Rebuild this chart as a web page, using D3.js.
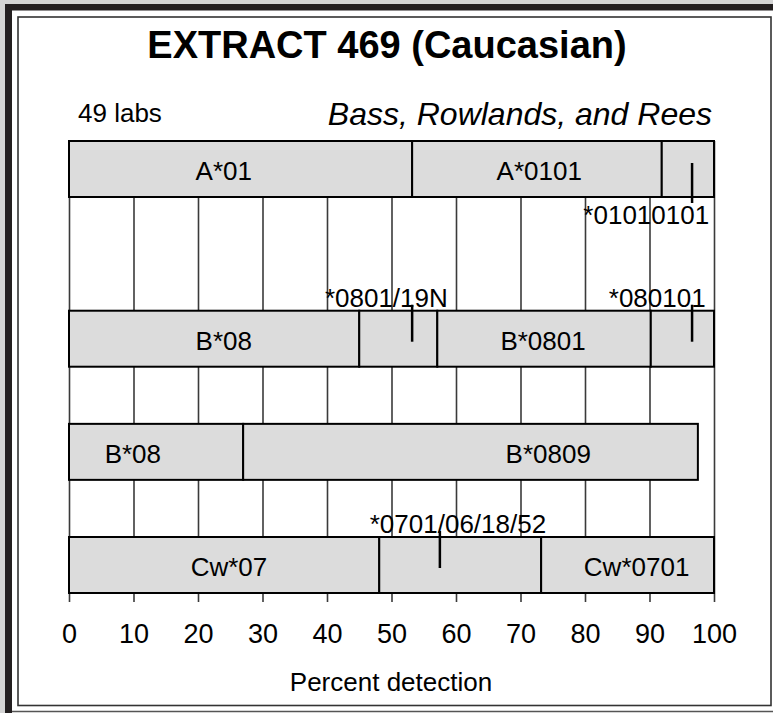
<!DOCTYPE html>
<html>
<head>
<meta charset="utf-8">
<script src="https://cdn.jsdelivr.net/npm/d3@7"></script>
<style>
  body { margin: 0; background: #fff; }
  text { font-family: "Liberation Sans", Arial, sans-serif; fill: #000; }
</style>
</head>
<body>
<div id="chart"></div>
<script>
// chart data (percent detection)
var rowBreaks = [
    [0, 53.2, 91.9, 100],
    [0, 45.0, 57.1, 90.2, 100],
    [0, 27.0, 97.5],
    [0, 48.1, 73.2, 100]
];
var segLabels = [
    ["A*01", "A*0101"],
    ["B*08", "B*0801"],
    ["B*08", "B*0809"],
    ["Cw*07", "Cw*0701"]
];
var segLabelAt = [
    [24.0, 72.9],
    [24.0, 73.5],
    [9.9, 74.3],
    [24.8, 88.0]
];
var markerRow = [0, 1, 1, 3];
var markerValue = [96.6, 53.2, 96.6, 57.5];
var markerText = ["*01010101", "*0801/19N", "*080101", "*0701/06/18/52"];
var markerTextAt = [89.5, 49.2, 91.2, 60.3];
var markerBelow = [true, false, false, false];
var tickValues = [0, 10, 20, 30, 40, 50, 60, 70, 80, 90, 100];

var svg;
var x;
var y;

function frame() {
    var width = 773, height = 713;

    svg = d3.select("#chart")
        .append("svg")
        .attr("width", width)
        .attr("height", height);

    // grey page margin on the top and left
    svg.append("rect").attr("x", 0).attr("y", 0).attr("width", width).attr("height", 4).attr("fill", "#d4d4d4");
    svg.append("rect").attr("x", 0).attr("y", 0).attr("width", 5).attr("height", height).attr("fill", "#d4d4d4");

    // thick dark border top + left, thin one at the bottom
    svg.append("rect").attr("x", 5).attr("y", 4).attr("width", width - 5).attr("height", 6.5).attr("fill", "#231f20");
    svg.append("rect").attr("x", 5).attr("y", 4).attr("width", 7).attr("height", height - 4).attr("fill", "#231f20");
    svg.append("line")
        .attr("x1", 12).attr("x2", width)
        .attr("y1", 711.5).attr("y2", 711.5)
        .attr("stroke", "#555").attr("stroke-width", 1.5);

    // inner box
    svg.append("rect")
        .attr("x", 18).attr("y", 17)
        .attr("width", 753).attr("height", 688.5)
        .attr("fill", "none")
        .attr("stroke", "#333")
        .attr("stroke-width", 1.6);

    // title and sub headings
    svg.append("text")
        .attr("x", 387).attr("y", 58)
        .attr("text-anchor", "middle")
        .style("font-size", "38px")
        .style("font-weight", "bold")
        .text("EXTRACT 469 (Caucasian)");

    svg.append("text")
        .attr("x", 78).attr("y", 122)
        .style("font-size", "26px")
        .text("49 labs");

    svg.append("text")
        .attr("x", 712).attr("y", 125)
        .attr("text-anchor", "end")
        .style("font-size", "32px")
        .style("font-style", "italic")
        .text("Bass, Rowlands, and Rees");
}

function bars() {
    var barH = 56;
    var gridTop = 141, gridBottom = 602;

    x = d3.scaleLinear()
        .domain([0, 100])
        .range([69, 714]);

    // first row has extra room below it for the marker label
    y = d3.scaleLinear()
        .domain([0, 3.5])
        .range([141, 537]);
    var rowTop = function(i) { return y(i === 0 ? 0 : i + 0.5); };

    // grid lines + ticks + tick labels through the axis
    var axis = svg.append("g")
        .attr("transform", "translate(0," + gridBottom + ")")
        .call(d3.axisBottom(x)
            .tickValues(tickValues)
            .tickSize(-(gridBottom - gridTop))
            .tickPadding(22));
    axis.select(".domain").remove();
    axis.selectAll(".tick line")
        .attr("stroke", "#3a3a3a")
        .attr("stroke-width", 1.6);
    axis.selectAll(".tick text")
        .style("font-size", "27px")
        .style("font-family", "'Liberation Sans', Arial, sans-serif")
        .attr("fill", "#000");

    svg.append("text")
        .attr("x", 391).attr("y", 691)
        .attr("text-anchor", "middle")
        .style("font-size", "26px")
        .text("Percent detection");

    // segments of each row
    rowBreaks.forEach(function(breaks, i) {
        var segs = d3.pairs(breaks);
        var g = svg.append("g");
        g.selectAll("rect")
            .data(segs)
            .enter()
            .append("rect")
            .attr("x", function(d) { return x(d[0]); })
            .attr("y", rowTop(i))
            .attr("width", function(d) { return x(d[1]) - x(d[0]); })
            .attr("height", barH)
            .attr("fill", "#dcdcdc")
            .attr("stroke", "#000")
            .attr("stroke-width", 2);

        g.selectAll("text")
            .data(segLabels[i])
            .enter()
            .append("text")
            .attr("x", function(d, j) { return x(segLabelAt[i][j]); })
            .attr("y", rowTop(i) + barH / 2 + 11)
            .attr("text-anchor", "middle")
            .style("font-size", "26px")
            .text(function(d) { return d; });
    });

    // marker ticks with their labels
    var marks = svg.append("g");
    markerValue.forEach(function(v, k) {
        var top = rowTop(markerRow[k]);
        var y1, y2, ty;
        if (markerBelow[k]) {
            y1 = top + 22; y2 = top + barH + 6; ty = top + barH + 27;
        } else {
            y1 = top - 6; y2 = top + 31; ty = top - 4;
        }
        marks.append("line")
            .attr("x1", x(v)).attr("x2", x(v))
            .attr("y1", y1).attr("y2", y2)
            .attr("stroke", "#000")
            .attr("stroke-width", 2.5);
        marks.append("text")
            .attr("x", x(markerTextAt[k]))
            .attr("y", ty)
            .attr("text-anchor", "middle")
            .style("font-size", "26px")
            .text(markerText[k]);
    });
}

frame();
bars();
</script>
</body>
</html>
